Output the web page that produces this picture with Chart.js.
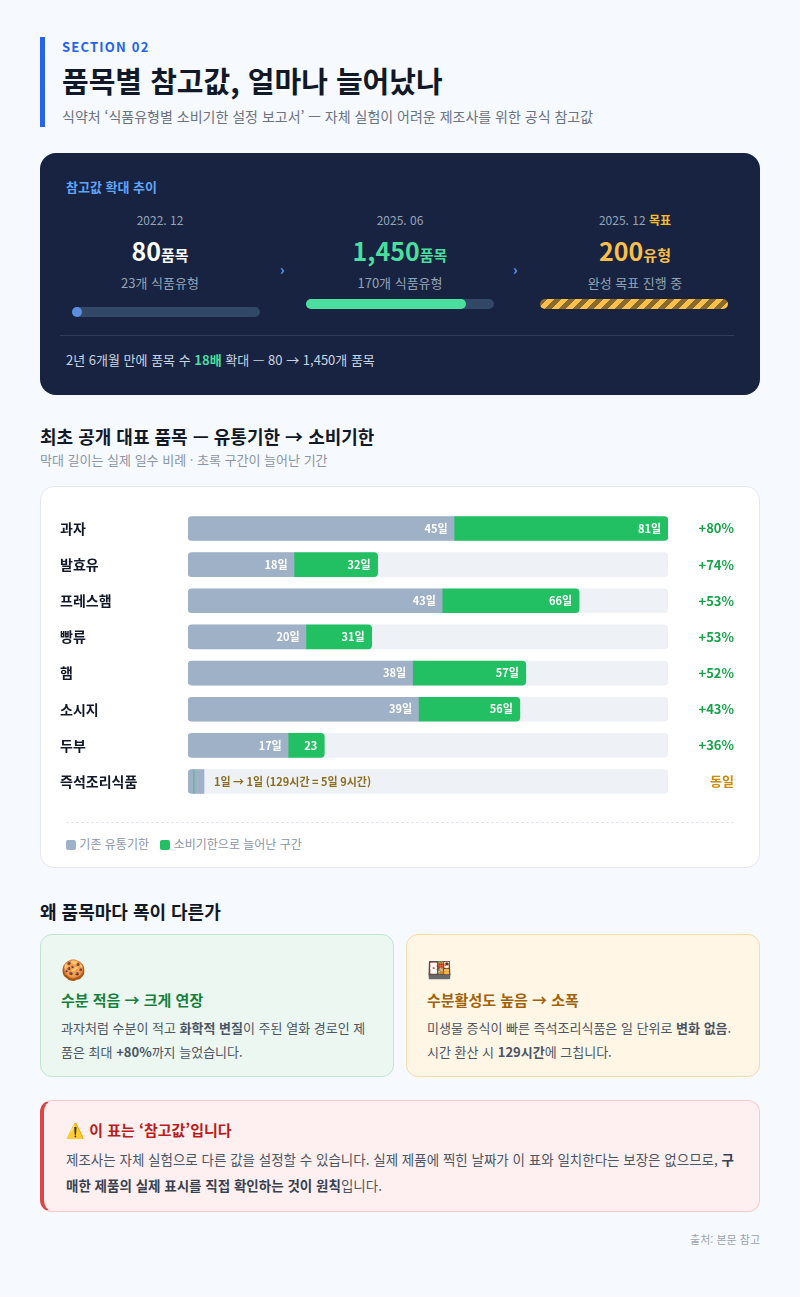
<!DOCTYPE html>
<html lang="ko">
<head>
<meta charset="utf-8">
<script src="https://cdn.jsdelivr.net/npm/chart.js@4/dist/chart.umd.min.js"></script>
<style>
* { box-sizing: border-box; margin: 0; padding: 0; }
body { width: 800px; height: 1297px; background: #f6f9fd; font-family: "Noto Sans CJK KR", "Noto Sans", sans-serif; color: #1f2937; position: relative; }
.abs { position: absolute; }
.hdr { left: 40px; top: 37px; height: 90px; border-left: 5px solid #2563eb; padding-left: 17px; }
.sec { font-size: 13px; font-weight: 700; color: #2563eb; letter-spacing: 1.2px; margin-top: 0; }
.title { font-size: 29px; font-weight: 700; color: #111827; margin-top: 4px; line-height: 40px; }
.sub { font-size: 14px; color: #6b7280; margin-top: 6px; }
.dark { left: 40px; top: 153px; width: 720px; height: 242px; background: #172340; border-radius: 16px; color: #cbd5e1; }
.col { position: absolute; top: 58px; width: 190px; text-align: center; }
.date { font-size: 12px; color: #94a3b8; }
.big { font-size: 25px; font-weight: 700; margin-top: 6px; line-height: 32px; }
.big span { font-size: 15px; }
.small { font-size: 13px; color: #94a3b8; margin-top: 2px; }
.track { position: absolute; height: 10px; border-radius: 5px; background: #334766; width: 188px; }
.chev { position: absolute; top: 106px; color: #60a5fa; font-size: 14px; font-weight: 700; }
.h2 { font-size: 18px; font-weight: 700; color: #111827; }
.h2sub { font-size: 13px; color: #8b95a5; }
.card { left: 40px; top: 486px; width: 720px; height: 382px; background: #fff; border: 1px solid #e3e8ef; border-radius: 14px; }
.why { top: 934px; width: 354px; height: 143px; border-radius: 12px; padding: 22px 20px; }
.why .ic { font-size: 20px; line-height: 24px; }
.why .t { font-size: 15px; font-weight: 700; margin-top: 8px; }
.why .d { font-size: 13px; color: #4b5563; line-height: 24px; margin-top: 6px; }
.warn { left: 40px; top: 1100px; width: 720px; height: 112px; background: #fef0f0; border: 1px solid #f6caca; border-left: 4px solid #dc4545; border-radius: 12px; padding: 18px 22px; }
</style>
</head>
<body>
<div class="abs hdr">
  <div class="sec">SECTION 02</div>
  <div class="title">품목별 참고값, 얼마나 늘어났나</div>
  <div class="sub">식약처 ‘식품유형별 소비기한 설정 보고서’ — 자체 실험이 어려운 제조사를 위한 공식 참고값</div>
</div>

<div class="abs dark">
  <div style="position:absolute;left:26px;top:24px;font-size:13px;font-weight:700;color:#60a5fa">참고값 확대 추이</div>
  <div class="col" style="left:25px">
    <div class="date">2022. 12</div>
    <div class="big" style="color:#fff">80<span>품목</span></div>
    <div class="small">23개 식품유형</div>
  </div>
  <div class="chev" style="left:240px">›</div>
  <div class="col" style="left:265px">
    <div class="date">2025. 06</div>
    <div class="big" style="color:#4ade9f">1,450<span>품목</span></div>
    <div class="small">170개 식품유형</div>
  </div>
  <div class="chev" style="left:473px">›</div>
  <div class="col" style="left:500px">
    <div class="date">2025. 12 <b style="color:#fbbf24;font-weight:700">목표</b></div>
    <div class="big" style="color:#fbbf4a">200<span>유형</span></div>
    <div class="small">완성 목표 진행 중</div>
  </div>
  <div class="track" style="left:32px;top:154px"><div style="width:10px;height:10px;border-radius:5px;background:#5b8ee0"></div></div>
  <div class="track" style="left:266px;top:146px"><div style="width:160px;height:10px;border-radius:5px;background:#4ade9f"></div></div>
  <div class="track" style="left:500px;top:146px;background:repeating-linear-gradient(-45deg,#fbbf4a 0 5px,#8a6a2a 5px 10px)"></div>
  <div style="position:absolute;left:20px;right:26px;top:182px;border-top:1px solid #2f3d5a"></div>
  <div style="position:absolute;left:26px;top:197px;font-size:13px;color:#cbd5e1">2년 6개월 만에 품목 수 <b style="color:#4ade9f">18배</b> 확대 — 80 → 1,450개 품목</div>
</div>

<div class="abs h2" style="left:40px;top:423px">최초 공개 대표 품목 — 유통기한 → 소비기한</div>
<div class="abs h2sub" style="left:40px;top:450px">막대 길이는 실제 일수 비례 · 초록 구간이 늘어난 기간</div>

<div class="abs card">
  <div style="position:absolute;left:19px;top:12px;width:680px;height:312px"><canvas id="bars"></canvas></div>
  <div style="position:absolute;left:25px;right:25px;top:335px;border-top:1px dashed #e2e6ec"></div>
  <div style="position:absolute;left:25px;top:348px;font-size:12px;color:#8b95a5">
    <span style="display:inline-block;width:10px;height:10px;border-radius:2px;background:#9fb1c6;vertical-align:-1px"></span> 기존 유통기한
    <span style="display:inline-block;width:10px;height:10px;border-radius:2px;background:#22c063;vertical-align:-1px;margin-left:8px"></span> 소비기한으로 늘어난 구간
  </div>
</div>

<div class="abs h2" style="left:40px;top:898px">왜 품목마다 폭이 다른가</div>
<div class="abs why" style="left:40px;background:#ecf7f1;border:1px solid #bfe5cf">
  <div class="ic">🍪</div>
  <div class="t" style="color:#15803d">수분 적음 → 크게 연장</div>
  <div class="d">과자처럼 수분이 적고 <b>화학적 변질</b>이 주된 열화 경로인 제품은 최대 <b>+80%</b>까지 늘었습니다.</div>
</div>
<div class="abs why" style="left:406px;background:#fff6e6;border:1px solid #f3dcae">
  <div class="ic">🍱</div>
  <div class="t" style="color:#a16207">수분활성도 높음 → 소폭</div>
  <div class="d">미생물 증식이 빠른 즉석조리식품은 일 단위로 <b>변화 없음</b>. 시간 환산 시 <b>129시간</b>에 그칩니다.</div>
</div>

<div class="abs warn">
  <div style="font-size:15px;font-weight:700;color:#b91c1c">⚠️ 이 표는 ‘참고값’입니다</div>
  <div style="font-size:13.5px;color:#4b5563;line-height:26px;margin-top:6px">제조사는 자체 실험으로 다른 값을 설정할 수 있습니다. 실제 제품에 찍힌 날짜가 이 표와 일치한다는 보장은 없으므로, <b style="color:#374151">구매한 제품의 실제 표시를 직접 확인하는 것이 원칙</b>입니다.</div>
</div>
<div class="abs" style="right:40px;top:1231px;font-size:11px;color:#9ca3af">출처: 본문 참고</div>

<script>
// =============================
// DATA
// =============================
const items = ["과자", "발효유", "프레스햄", "빵류", "햄", "소시지", "두부", "즉석조리식품"];
const oldDays = [45, 18, 43, 20, 38, 39, 17, 1];
const newDays = [81, 32, 66, 31, 57, 56, 23, 1];
const oldLabels = ["45일", "18일", "43일", "20일", "38일", "39일", "17일", ""];
const newLabels = ["81일", "32일", "66일", "31일", "57일", "56일", "23", ""];
const changeLabels = ["+80%", "+74%", "+53%", "+53%", "+52%", "+43%", "+36%", "동일"];
const noteLabel = "1일 → 1일 (129시간 = 5일 9시간)";
const maxDays = 81;

// =============================
// LABEL PLUGIN
// =============================
const barText = {
    id: "barText",
    afterDatasetsDraw(chart) {
        const { ctx, chartArea } = chart;
        const grayMeta = chart.getDatasetMeta(1);
        const greenMeta = chart.getDatasetMeta(2);
        ctx.save();
        ctx.textBaseline = "middle";
        items.forEach((name, i) => {
            const g = grayMeta.data[i], n = greenMeta.data[i];
            ctx.font = "bold 11px 'Noto Sans CJK KR'";
            ctx.fillStyle = "#fff";
            ctx.textAlign = "right";
            if (oldLabels[i]) ctx.fillText(oldLabels[i], g.x - 7, g.y);
            if (newLabels[i]) ctx.fillText(newLabels[i], n.x - 7, n.y);
            if (!oldLabels[i]) {
                ctx.textAlign = "left";
                ctx.fillStyle = "#8a6d1f";
                ctx.fillText(noteLabel, g.x + 10, g.y);
            }
            ctx.textAlign = "right";
            ctx.font = "bold 13px 'Noto Sans CJK KR'";
            ctx.fillStyle = i === items.length - 1 ? "#ca8a04" : "#16a34a";
            ctx.fillText(changeLabels[i], chartArea.right + 66, g.y);
        });
        ctx.restore();
    }
};

new Chart(document.getElementById("bars"), {
    type: "bar",
    data: {
        labels: items,
        datasets: [
            {
                data: items.map(() => [0, maxDays]),
                backgroundColor: "#eef2f7",
                borderRadius: 4,
                borderSkipped: false,
                order: 3
            },
            {
                data: oldDays.map(d => [0, d]),
                backgroundColor: "#9fb1c6",
                borderRadius: { topLeft: 4, bottomLeft: 4 },
                borderSkipped: false,
                minBarLength: 16,
                order: 2
            },
            {
                data: oldDays.map((d, i) => [d, newDays[i]]),
                backgroundColor: "#22c063",
                borderRadius: { topRight: 4, bottomRight: 4 },
                borderSkipped: false,
                order: 1
            }
        ]
    },
    options: {
        indexAxis: "y",
        responsive: true,
        maintainAspectRatio: false,
        animation: false,
        layout: { padding: { right: 72 } },
        datasets: { bar: { grouped: false, barThickness: 24 } },
        plugins: { legend: { display: false }, tooltip: { enabled: false } },
        scales: {
            x: { min: 0, max: maxDays, display: false },
            y: {
                grid: { display: false },
                border: { display: false },
                afterFit(axis) { axis.width = 128; },
                ticks: {
                    crossAlign: "far",
                    color: "#111827",
                    font: { size: 14, weight: "bold", family: "Noto Sans CJK KR" }
                }
            }
        }
    },
    plugins: [barText]
});
</script>
</body>
</html>
